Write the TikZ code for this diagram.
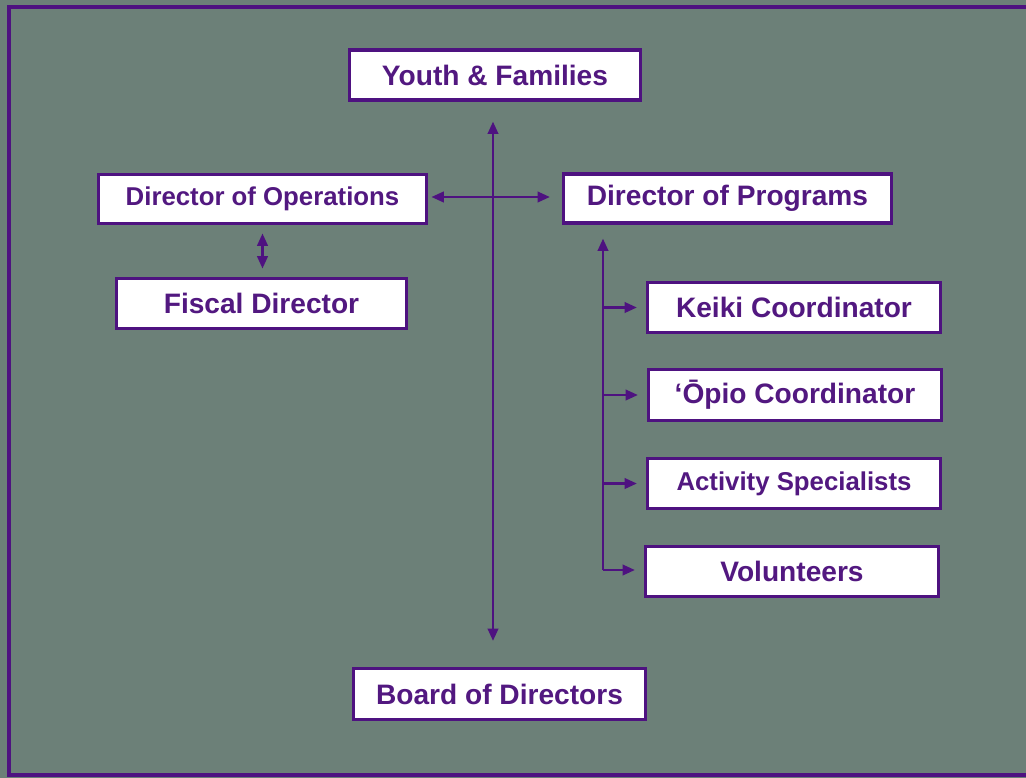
\documentclass[tikz,border=0pt]{standalone}
\usepackage{fontspec}
\setmainfont{Liberation Sans}
\usetikzlibrary{arrows.meta}
\definecolor{bg}{RGB}{108,128,120}
\definecolor{pur}{RGB}{78,18,128}
\definecolor{txt}{RGB}{82,24,128}
\tikzset{
  box/.style={draw=pur, line width=2.8pt, fill=white, inner sep=0pt,
    font=\bfseries\fontsize{24}{28}\selectfont, text=txt},
  link/.style={draw=pur, line width=1.9pt, -{Triangle[length=10.5pt,width=9pt]}},
  dlink/.style={draw=pur, line width=1.9pt, {Triangle[length=10.5pt,width=9pt]}-{Triangle[length=10.5pt,width=9pt]}},
}
\begin{document}
\begin{tikzpicture}[x=0.03cm,y=-0.03cm]
\useasboundingbox (0,0) rectangle (1026,778);
\fill[bg] (0,0) rectangle (1026,778);
\draw[pur, line width=3.2pt] (9,7) rectangle (1040,775);

\node[box, minimum width=291*0.03cm, minimum height=50*0.03cm] (YF) at (495,75) {Youth \& Families};
\node[box, minimum width=328*0.03cm, minimum height=49*0.03cm, font=\bfseries\fontsize{22}{26}\selectfont] (DO) at (262.5,199) {Director of Operations};
\node[box, minimum width=290*0.03cm, minimum height=50*0.03cm] (FD) at (261.5,303.5) {Fiscal Director};
\node[box, minimum width=328*0.03cm, minimum height=49*0.03cm] (DP) at (727.5,198.5) {Director of Programs};
\node[box, minimum width=293*0.03cm, minimum height=50*0.03cm] (KC) at (794,307.5) {Keiki Coordinator};
\node[box, minimum width=293*0.03cm, minimum height=51*0.03cm] (OC) at (795,395) {ʻŌpio Coordinator};
\node[box, minimum width=293*0.03cm, minimum height=50*0.03cm, font=\bfseries\fontsize{22}{26}\selectfont] (AS) at (794,483.5) {Activity Specialists};
\node[box, minimum width=293*0.03cm, minimum height=50*0.03cm] (VO) at (792,571.5) {Volunteers};
\node[box, minimum width=292*0.03cm, minimum height=51*0.03cm] (BD) at (499.5,694) {Board of Directors};

\coordinate (vx) at (493,0);
\coordinate (hy) at (0,197);
\coordinate (tb) at (603,570);

\draw[dlink, shorten <=0.6cm, shorten >=0.78cm] (YF.south -| vx) -- (BD.north -| vx);
\draw[dlink, shorten <=0.1cm, shorten >=0.36cm] (DO.east |- hy) -- (DP.west |- hy);
\draw[dlink, shorten <=0.25cm, shorten >=0.25cm] (DO.south) -- (FD.north -| DO.south);
\draw[link, shorten >=0.42cm] (tb) -- (DP.south -| tb);
\draw[link, shorten >=0.27cm] (KC.west -| tb) -- (KC.west);
\draw[link, shorten >=0.27cm] (OC.west -| tb) -- (OC.west);
\draw[link, shorten >=0.27cm] (AS.west -| tb) -- (AS.west);
\draw[link, shorten >=0.27cm] (tb) -- (VO.west |- tb);
\end{tikzpicture}
\end{document}
